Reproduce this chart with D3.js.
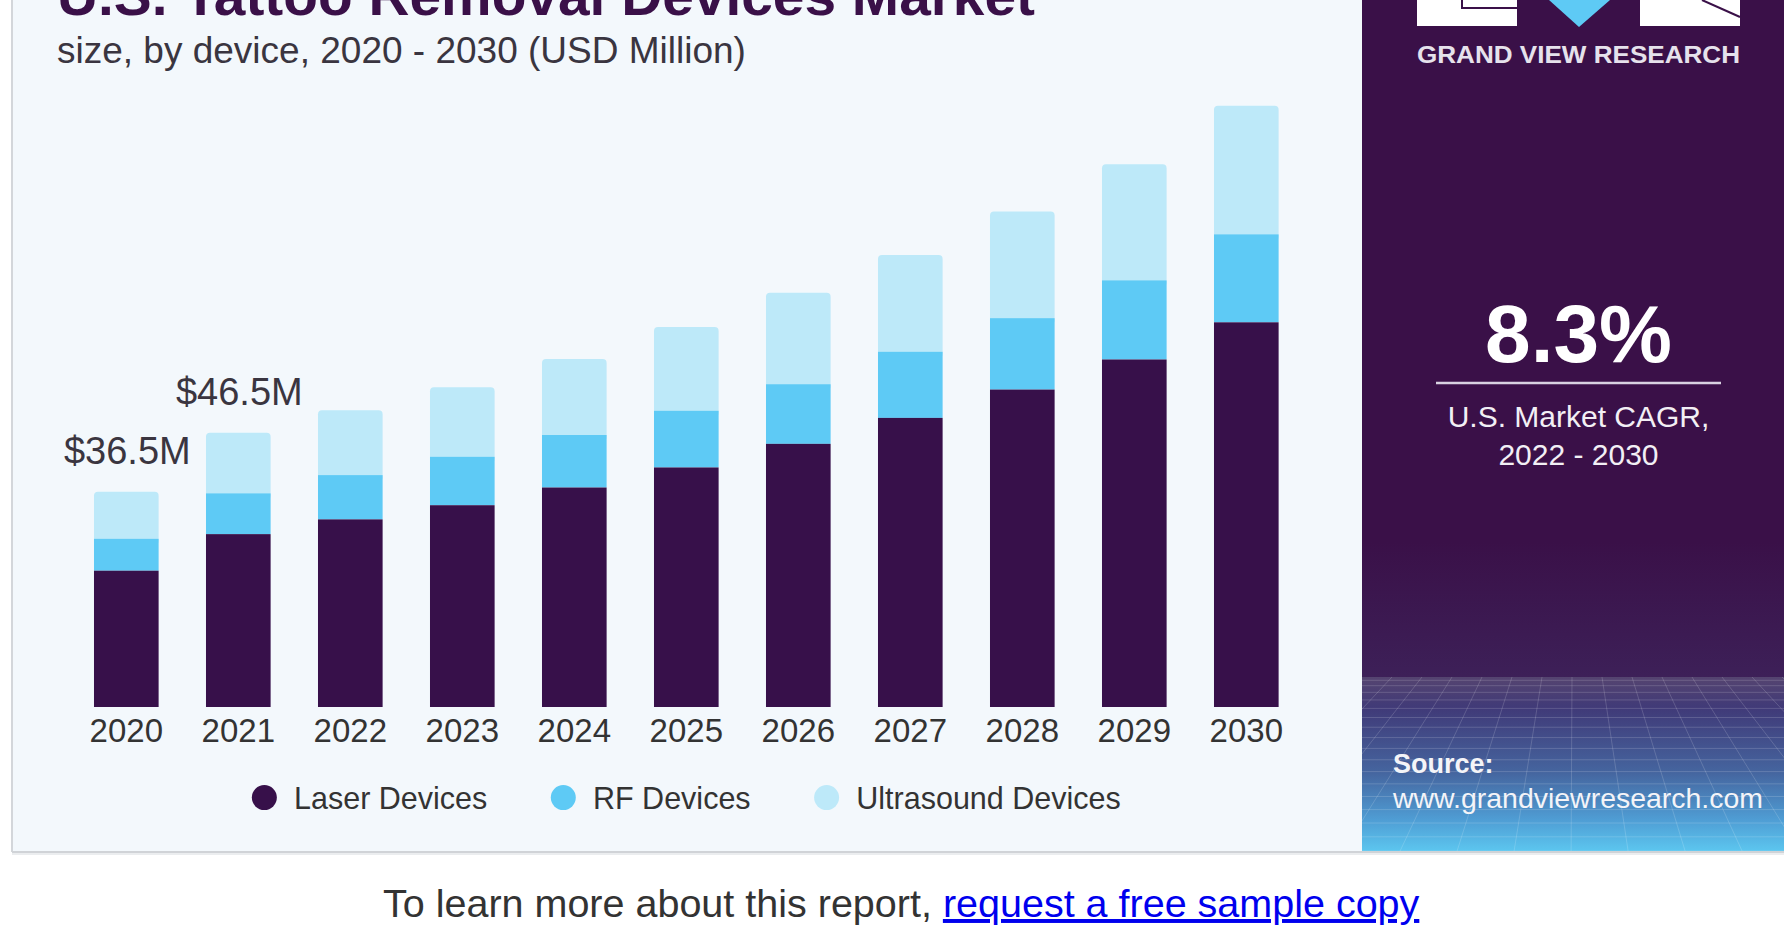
<!DOCTYPE html>
<html>
<head>
<meta charset="utf-8">
<script src="https://cdn.jsdelivr.net/npm/d3@7"></script>
<style>
  html, body { margin: 0; padding: 0; background: #ffffff; }
  svg { display: block; font-family: 'Liberation Sans', Arial, sans-serif; }
</style>
</head>
<body>
<svg id="chart"></svg>
<script>
// values (USD Million)
const years = ['2020', '2021', '2022', '2023', '2024', '2025', '2026', '2027', '2028', '2029', '2030'];
const laser = [23.1, 29.3, 31.8, 34.2, 37.2, 40.6, 44.6, 49.0, 53.8, 58.9, 65.2];
const rf = [5.4, 6.9, 7.5, 8.2, 8.9, 9.6, 10.1, 11.2, 12.1, 13.4, 14.9];
const ultrasound = [8.0, 10.3, 11.0, 11.8, 12.9, 14.2, 15.5, 16.4, 18.1, 19.7, 21.8];
const seriesKeys = ['laser', 'rf', 'ultrasound'];
const seriesNames = ['Laser Devices', 'RF Devices', 'Ultrasound Devices'];
const labelYears = ['2020', '2021'];
const labelTexts = ['$36.5M', '$46.5M'];

const colors = { laser: '#37104a', rf: '#5ecaf5', ultrasound: '#bde9f9' };
const purple = '#3a1048';

const width = 1784;
const height = 942;
const baseY = 707;

const svg = d3.select('#chart').attr('width', width).attr('height', height);

const defs = svg.append('defs');

// card
svg.append('rect').attr('x', 12).attr('y', -10).attr('width', width).attr('height', 861)
  .attr('fill', '#f3f8fc');
svg.append('line').attr('x1', 12).attr('x2', 12).attr('y1', 0).attr('y2', 852)
  .attr('stroke', '#d3d6da').attr('stroke-width', 2);
svg.append('line').attr('x1', 12).attr('x2', width).attr('y1', 852).attr('y2', 852)
  .attr('stroke', '#d0d3d7').attr('stroke-width', 2);
svg.append('line').attr('x1', 12).attr('x2', width).attr('y1', 854).attr('y2', 854)
  .attr('stroke', '#ebedef').attr('stroke-width', 2);

// title + subtitle (title is cut by the top edge, as in the source)
svg.append('text')
  .attr('x', 57).attr('y', 15)
  .attr('font-size', 56).attr('font-weight', 'bold')
  .attr('fill', purple)
  .attr('textLength', 978).attr('lengthAdjust', 'spacingAndGlyphs')
  .text('U.S. Tattoo Removal Devices Market');

svg.append('text')
  .attr('x', 57).attr('y', 63)
  .attr('font-size', 37).attr('fill', '#3a3540')
  .text('size, by device, 2020 - 2030 (USD Million)');

// stacked bars
const table = years.map((y, i) => ({ year: y, laser: laser[i], rf: rf[i], ultrasound: ultrasound[i] }));
const stacked = d3.stack().keys(seriesKeys)(table);

const xScale = d3.scaleBand().domain(years).range([70.3, 1302.3]).paddingInner(0.423).paddingOuter(0.2115);
const yScale = d3.scaleLinear().domain([0, 110]).range([baseY, baseY - 649]);

const bars = svg.append('g').attr('class', 'bars');

// draw top series first so the lower ones cover its rounded bottom corners
bars.selectAll('g.series')
  .data(stacked.slice().reverse())
  .join('g')
  .attr('class', 'series')
  .attr('fill', d => colors[d.key])
  .selectAll('rect')
  .data(d => d.map(v => ({ v, top: d.key === 'ultrasound' })))
  .join('rect')
  .attr('x', d => xScale(d.v.data.year))
  .attr('width', xScale.bandwidth())
  .attr('y', d => yScale(d.v[1]))
  .attr('height', d => yScale(d.v[0]) - yScale(d.v[1]) + (d.top ? 6 : 0))
  .attr('rx', d => d.top ? 4 : 0);

// x axis
const xAxis = d3.axisBottom(xScale).tickSize(0).tickSizeOuter(0);
const axisG = svg.append('g')
  .attr('class', 'x-axis')
  .attr('transform', `translate(0, ${baseY})`)
  .call(xAxis);
axisG.select('.domain').remove();
axisG.selectAll('text')
  .attr('y', 35).attr('dy', null)
  .attr('font-size', 33)
  .attr('font-family', "'Liberation Sans', Arial, sans-serif")
  .attr('fill', '#333');

// value labels
const totals = table.map(d => d.laser + d.rf + d.ultrasound);
svg.selectAll('.value-label')
  .data(labelYears)
  .join('text')
  .attr('class', 'value-label')
  .attr('x', d => xScale(d) + xScale.bandwidth() / 2 + 1)
  .attr('y', d => yScale(totals[years.indexOf(d)]) - 28)
  .attr('text-anchor', 'middle')
  .attr('font-size', 38)
  .attr('fill', '#3a3540')
  .text((d, i) => labelTexts[i]);

// legend
const legend = svg.append('g').attr('class', 'legend');
const items = legend.selectAll('g')
  .data(seriesKeys)
  .join('g');
items.append('circle').attr('r', 12.5).attr('cy', 797.6).attr('fill', d => colors[d]);
items.append('text')
  .attr('x', 29.7).attr('y', 809)
  .attr('font-size', 30.5).attr('fill', '#333')
  .text((d, i) => seriesNames[i]);
let cursor = 0;
const offsets = [];
items.each(function () {
  offsets.push(cursor);
  const w = d3.select(this).select('text').node().getComputedTextLength();
  cursor += 29.7 + w + 76;
});
const legendWidth = cursor - 76 + 12.5;
const legendStart = (xScale.range()[0] + xScale.range()[1]) / 2 - legendWidth / 2 + 12.5;
items.attr('transform', (d, i) => `translate(${legendStart + offsets[i]}, 0)`);

// right panel
const panelX = 1362;
const pg = defs.append('linearGradient').attr('id', 'panelTop').attr('x1', 0).attr('y1', 0).attr('x2', 0).attr('y2', 1);
pg.append('stop').attr('offset', '0').attr('stop-color', purple);
pg.append('stop').attr('offset', '0.8').attr('stop-color', purple);
pg.append('stop').attr('offset', '1').attr('stop-color', '#3d2058');
svg.append('rect').attr('x', panelX).attr('y', 0).attr('width', width - panelX).attr('height', 677)
  .attr('fill', 'url(#panelTop)');

const mg = defs.append('linearGradient').attr('id', 'panelMesh').attr('x1', 0).attr('y1', 0).attr('x2', 0).attr('y2', 1);
mg.append('stop').attr('offset', '0').attr('stop-color', '#554470');
mg.append('stop').attr('offset', '0.18').attr('stop-color', '#403a78');
mg.append('stop').attr('offset', '0.55').attr('stop-color', '#45659f');
mg.append('stop').attr('offset', '0.82').attr('stop-color', '#4f9dd4');
mg.append('stop').attr('offset', '1').attr('stop-color', '#5cc6ef');
svg.append('rect').attr('x', panelX).attr('y', 677).attr('width', width - panelX).attr('height', 174)
  .attr('fill', 'url(#panelMesh)');

// perspective mesh decoration, clipped to the panel
defs.append('clipPath').attr('id', 'meshClip')
  .append('rect').attr('x', panelX).attr('y', 677).attr('width', width - panelX).attr('height', 174);
const mesh = svg.append('g').attr('clip-path', 'url(#meshClip)')
  .attr('stroke', '#ffffff').attr('stroke-opacity', 0.16).attr('stroke-width', 1).attr('fill', 'none');
const rows = d3.range(1, 18).map(i => 677 + 174 * Math.pow(i / 17, 1.4));
mesh.selectAll('line.h').data(rows).join('line').attr('class', 'h')
  .attr('x1', panelX).attr('x2', width).attr('y1', d => d).attr('y2', d => d);
const cols = d3.range(-12, 26);
mesh.selectAll('line.v').data(cols).join('line').attr('class', 'v')
  .attr('x1', d => panelX + d * 30).attr('y1', 677)
  .attr('x2', d => panelX + 211 + (d * 30 - 211) * 1.9).attr('y2', 851);

// logo
svg.append('rect').attr('x', 1417).attr('y', -5).attr('width', 100).attr('height', 31).attr('fill', '#ffffff');
svg.append('path').attr('d', 'M1462,0 V8 H1517').attr('stroke', purple).attr('stroke-width', 2).attr('fill', 'none');
svg.append('path').attr('d', 'M1549,0 L1610,0 L1579,27 Z').attr('fill', '#5ecaf5');
svg.append('rect').attr('x', 1640).attr('y', -5).attr('width', 100).attr('height', 31).attr('fill', '#ffffff');
svg.append('path').attr('d', 'M1702,0 L1740,17').attr('stroke', purple).attr('stroke-width', 2).attr('fill', 'none');
svg.append('text')
  .attr('x', 1417).attr('y', 63)
  .attr('font-size', 23).attr('font-weight', 'bold')
  .attr('fill', '#e6e2ec')
  .attr('textLength', 323).attr('lengthAdjust', 'spacingAndGlyphs')
  .text('GRAND VIEW RESEARCH');

// CAGR block
const cx = 1578.5;
svg.append('text').attr('x', cx).attr('y', 362).attr('text-anchor', 'middle')
  .attr('font-size', 82).attr('font-weight', 'bold').attr('fill', '#ffffff').text('8.3%');
svg.append('line').attr('x1', 1436).attr('x2', 1721).attr('y1', 383).attr('y2', 383)
  .attr('stroke', '#d9d2e2').attr('stroke-width', 2.5);
svg.append('text').attr('x', cx).attr('y', 427).attr('text-anchor', 'middle')
  .attr('font-size', 30).attr('fill', '#f2eff5').text('U.S. Market CAGR,');
svg.append('text').attr('x', cx).attr('y', 465).attr('text-anchor', 'middle')
  .attr('font-size', 30).attr('fill', '#f2eff5').text('2022 - 2030');

// source
svg.append('text').attr('x', 1393).attr('y', 773)
  .attr('font-size', 27).attr('font-weight', 'bold').attr('fill', '#f4f4f8').text('Source:');
svg.append('text').attr('x', 1393).attr('y', 808)
  .attr('font-size', 28).attr('fill', '#f4f4f8')
  .attr('textLength', 370).attr('lengthAdjust', 'spacingAndGlyphs')
  .text('www.grandviewresearch.com');

// footer line below card
const footer = svg.append('text').attr('x', 383).attr('y', 917).attr('font-size', 39.5).attr('fill', '#333');
footer.append('tspan').text('To learn more about this report, ');
footer.append('tspan').attr('fill', '#0000ee').attr('text-decoration', 'underline').text('request a free sample copy');
</script>
</body>
</html>
